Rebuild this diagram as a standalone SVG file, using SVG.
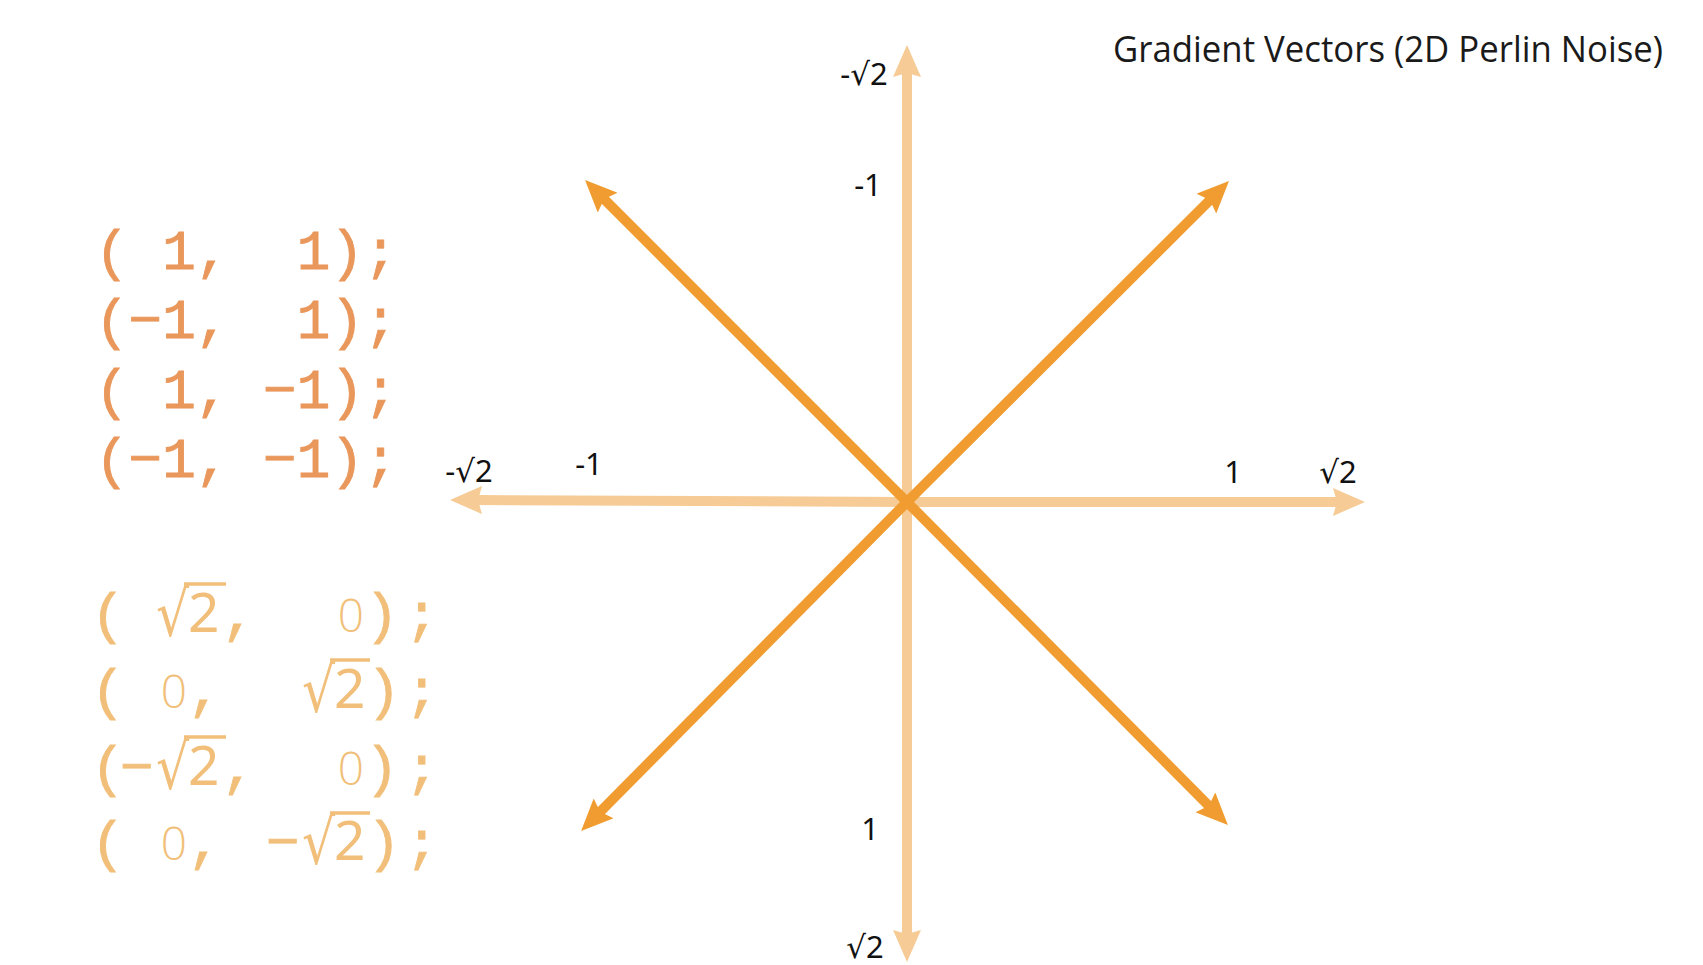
<svg xmlns="http://www.w3.org/2000/svg" width="1703" height="965" viewBox="0 0 1703 965">
<style>
.lbl{font-family:"Noto Sans","DejaVu Sans",sans-serif;font-size:31px;fill:#111;text-anchor:middle}
.code1{font-family:"Liberation Mono","DejaVu Sans Mono",monospace;font-size:56px;fill:#E9975B;stroke:#E9975B;stroke-width:0.9}
.code2{font-family:"Liberation Mono","DejaVu Sans Mono",monospace;font-size:56px;fill:#F1BF7A;stroke:#F1BF7A;stroke-width:0.9}
.zero{font-family:"Open Sans","Noto Sans",sans-serif;font-weight:300;font-size:46px;fill:#F1BF7A;text-anchor:middle}
.rad{font-family:"Noto Sans","DejaVu Sans",sans-serif;font-size:52px;fill:#F1BF7A}
.two{font-family:"Noto Sans","DejaVu Sans",sans-serif;font-size:55px;fill:#F1BF7A}
.bar{stroke:#F1BF7A;stroke-width:3.5}
.axis{stroke:#F6CB95;stroke-width:10;fill:none}
.diag{stroke:#F09C30;stroke-width:10;fill:none}
</style>
<defs>
<marker id="ah" markerUnits="userSpaceOnUse" viewBox="0 -14 32 28" refX="8" refY="0" markerWidth="32" markerHeight="28" orient="auto">
<path d="M0,-14 L32,0 L0,14 L4,0 z" fill="#F6CB95"/>
</marker>
<marker id="dh" markerUnits="userSpaceOnUse" viewBox="0 -14 32 28" refX="8" refY="0" markerWidth="32" markerHeight="28" orient="auto">
<path d="M0,-14 L32,0 L0,14 L5,0 z" fill="#F09C30"/>
</marker>
</defs>
<rect width="1703" height="965" fill="#ffffff"/>
<g id="connectors">
<line class="axis" x1="907" y1="502" x2="907" y2="69" marker-end="url(#ah)"/>
<line class="axis" x1="907" y1="502" x2="907" y2="938" marker-end="url(#ah)"/>
<line class="axis" x1="907" y1="502" x2="474" y2="500" marker-end="url(#ah)"/>
<line class="axis" x1="907" y1="502" x2="1341" y2="502" marker-end="url(#ah)"/>
<line class="diag" x1="907" y1="502" x2="602" y2="197" marker-end="url(#dh)"/>
<line class="diag" x1="907" y1="502" x2="1212" y2="198" marker-end="url(#dh)"/>
<line class="diag" x1="907" y1="502" x2="598" y2="814" marker-end="url(#dh)"/>
<line class="diag" x1="907" y1="502" x2="1211" y2="808" marker-end="url(#dh)"/>
</g>
<g id="title">
<text x="1113" y="62" font-family="Open Sans, Noto Sans, sans-serif" font-size="36" fill="#1a1a1a" textLength="550" lengthAdjust="spacingAndGlyphs">Gradient Vectors (2D Perlin Noise)</text>
</g>
<g id="axis-labels">
<text class="lbl" x="864" y="85">-√2</text>
<text class="lbl" x="868" y="196">-1</text>
<text class="lbl" x="469" y="482">-√2</text>
<text class="lbl" x="589" y="475">-1</text>
<text class="lbl" x="1233" y="483">1</text>
<text class="lbl" x="1338" y="483">√2</text>
<text class="lbl" x="870" y="840">1</text>
<text class="lbl" x="865" y="958">√2</text>
</g>
<g id="code-top">
<text class="code1" x="95" y="269" xml:space="preserve">( 1,  1);</text>
<text class="code1" x="95" y="338" xml:space="preserve">(−1,  1);</text>
<text class="code1" x="95" y="408" xml:space="preserve">( 1, −1);</text>
<text class="code1" x="95" y="477" xml:space="preserve">(−1, −1);</text>
</g>
<g id="code-bottom">
<g id="row5">
<text class="code2" x="91" y="632">(</text>
<text class="rad" transform="translate(156,636) scale(1,1.2)">√</text>
<text class="two" x="188" y="632">2</text>
<line class="bar" x1="184" y1="584" x2="226" y2="584"/>
<text class="code2" x="222" y="632">,</text>
<text class="zero" x="351" y="632">0</text>
<text class="code2" x="365" y="632">)</text>
<text class="code2" x="405" y="632">;</text>
</g>
<g id="row6">
<text class="code2" x="91" y="708">(</text>
<text class="zero" x="174" y="708">0</text>
<text class="code2" x="188" y="708">,</text>
<text class="rad" transform="translate(302,712) scale(1,1.2)">√</text>
<text class="two" x="334" y="708">2</text>
<line class="bar" x1="330" y1="660" x2="370" y2="660"/>
<text class="code2" x="367" y="708">)</text>
<text class="code2" x="405" y="708">;</text>
</g>
<g id="row7">
<text class="code2" x="91" y="785">(</text>
<text class="code2" x="120" y="785">−</text>
<text class="rad" transform="translate(156,789) scale(1,1.2)">√</text>
<text class="two" x="188" y="785">2</text>
<line class="bar" x1="184" y1="737" x2="226" y2="737"/>
<text class="code2" x="222" y="785">,</text>
<text class="zero" x="351" y="785">0</text>
<text class="code2" x="365" y="785">)</text>
<text class="code2" x="405" y="785">;</text>
</g>
<g id="row8">
<text class="code2" x="91" y="860">(</text>
<text class="zero" x="174" y="860">0</text>
<text class="code2" x="188" y="860">,</text>
<text class="code2" x="266" y="860">−</text>
<text class="rad" transform="translate(302,864) scale(1,1.2)">√</text>
<text class="two" x="334" y="860">2</text>
<line class="bar" x1="330" y1="813" x2="370" y2="813"/>
<text class="code2" x="367" y="860">)</text>
<text class="code2" x="405" y="860">;</text>
</g>
</g>
</svg>
